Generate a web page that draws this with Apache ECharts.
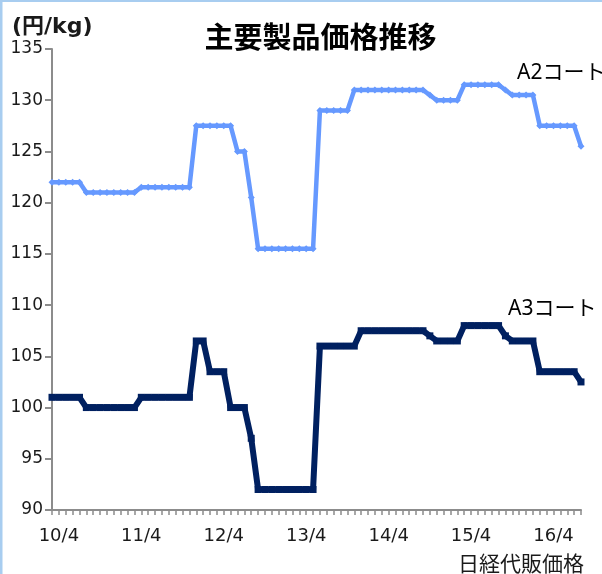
<!DOCTYPE html>
<html>
<head>
<meta charset="utf-8">
<script src="https://cdn.jsdelivr.net/npm/echarts@6/dist/echarts.min.js"></script>
<style>
html,body{margin:0;padding:0;background:#fff;}
#chart{width:602px;height:574px;}
</style>
</head>
<body>
<div id="chart"></div>
<script>
var categories = [
  '10/3','10/4','10/5','10/6','10/7','10/8','10/9','10/10','10/11','10/12',
  '11/1','11/2','11/3','11/4','11/5','11/6','11/7','11/8','11/9','11/10','11/11','11/12',
  '12/1','12/2','12/3','12/4','12/5','12/6','12/7','12/8','12/9','12/10','12/11','12/12',
  '13/1','13/2','13/3','13/4','13/5','13/6','13/7','13/8','13/9','13/10','13/11','13/12',
  '14/1','14/2','14/3','14/4','14/5','14/6','14/7','14/8','14/9','14/10','14/11','14/12',
  '15/1','15/2','15/3','15/4','15/5','15/6','15/7','15/8','15/9','15/10','15/11','15/12',
  '16/1','16/2','16/3','16/4','16/5','16/6','16/7','16/8'
];
var tickLabels = ['10/4','11/4','12/4','13/4','14/4','15/4','16/4'];

var a2Coat = [
  122,122,122,122,122,
  121,121,121,121,121,121,121,121,
  121.5,121.5,121.5,121.5,121.5,121.5,121.5,121.5,
  127.5,127.5,127.5,127.5,127.5,127.5,
  125,125,
  120.5,
  115.5,115.5,115.5,115.5,115.5,115.5,115.5,115.5,115.5,
  129,129,129,129,129,
  131,131,131,131,131,131,131,131,131,131,131,
  130.5,
  130,130,130,130,
  131.5,131.5,131.5,131.5,131.5,131.5,
  131,
  130.5,130.5,130.5,130.5,
  127.5,127.5,127.5,127.5,127.5,127.5,
  125.5
];
var a3Coat = [
  101,101,101,101,101,
  100,100,100,100,100,100,100,100,
  101,101,101,101,101,101,101,101,
  106.5,106.5,
  103.5,103.5,103.5,
  100,100,100,
  97,
  92,92,92,92,92,92,92,92,92,
  106,106,106,106,106,106,
  107.5,107.5,107.5,107.5,107.5,107.5,107.5,107.5,107.5,107.5,
  107,
  106.5,106.5,106.5,106.5,
  108,108,108,108,108,108,
  107,
  106.5,106.5,106.5,106.5,
  103.5,103.5,103.5,103.5,103.5,103.5,
  102.5
];
var seriesNames = ['A2コート','A3コート'];

var chart = echarts.init(document.getElementById('chart'), null, {renderer:'canvas'});
var axisGray = '#8c8c8c';
var numFont = 'DejaVu Sans';
var jpFont = '"Noto Sans CJK JP", "Noto Sans", sans-serif';

chart.setOption({
  animation: false,
  backgroundColor: '#ffffff',
  grid: {left: 52, right: 21, top: 49, bottom: 64, containLabel: false},
  xAxis: {
    type: 'category',
    data: categories,
    boundaryGap: false,
    axisLine: {show: true, lineStyle: {color: axisGray, width: 2}},
    axisTick: {show: true, interval: 0, length: 5, lineStyle: {color: axisGray, width: 1.5}},
    axisLabel: {
      interval: function (idx, val) { return tickLabels.indexOf(val) >= 0; },
      margin: 17, fontSize: 18, fontFamily: numFont, color: '#1a1a1a'
    },
    splitLine: {show: false}
  },
  yAxis: {
    type: 'value',
    min: 90, max: 135, interval: 5,
    axisLine: {show: true, lineStyle: {color: axisGray, width: 2}},
    axisTick: {show: true, length: 7, lineStyle: {color: axisGray, width: 2}},
    axisLabel: {margin: 9, fontSize: 17, fontFamily: numFont, color: '#1a1a1a'},
    splitLine: {show: false}
  },
  series: [
    {
      name: seriesNames[0], type: 'line', data: a2Coat,
      showAllSymbol: true, symbol: 'diamond', symbolSize: 7,
      lineStyle: {color: '#6699ff', width: 4.5, join: 'round'},
      itemStyle: {color: '#6699ff'},
      emphasis: {disabled: true}
    },
    {
      name: seriesNames[1], type: 'line', data: a3Coat,
      showAllSymbol: true, symbol: 'rect', symbolSize: 7,
      lineStyle: {color: '#002060', width: 6, join: 'round'},
      itemStyle: {color: '#002060'},
      emphasis: {disabled: true}
    }
  ],
  graphic: [
    {type: 'rect', left: 0, top: 0, shape: {width: 602, height: 2}, style: {fill: '#a8cdf0'}, silent: true},
    {type: 'rect', left: 0, top: 0, shape: {width: 2.5, height: 574}, style: {fill: '#a8cdf0'}, silent: true},
    {type: 'text', x: 320.5, y: 37, style: {text: '主要製品価格推移', font: 'bold 29px ' + jpFont, fill: '#000', align: 'center', verticalAlign: 'middle'}},
    {type: 'text', x: 12, y: 27, style: {text: '(円/kg)', font: 'bold 22px "DejaVu Sans", "Noto Sans CJK JP", sans-serif', fill: '#1a1a1a', align: 'left', verticalAlign: 'middle'}},
    {type: 'text', x: 517, y: 73, style: {text: seriesNames[0], font: '21px "Noto Sans", "Noto Sans CJK JP", sans-serif', fill: '#000', align: 'left', verticalAlign: 'middle'}},
    {type: 'text', x: 508, y: 309, style: {text: seriesNames[1], font: '21px "Noto Sans", "Noto Sans CJK JP", sans-serif', fill: '#000', align: 'left', verticalAlign: 'middle'}},
    {type: 'text', x: 584, y: 563, style: {text: '日経代販価格', font: '21px ' + jpFont, fill: '#1a1a1a', align: 'right', verticalAlign: 'middle'}}
  ]
});
</script>
</body>
</html>
